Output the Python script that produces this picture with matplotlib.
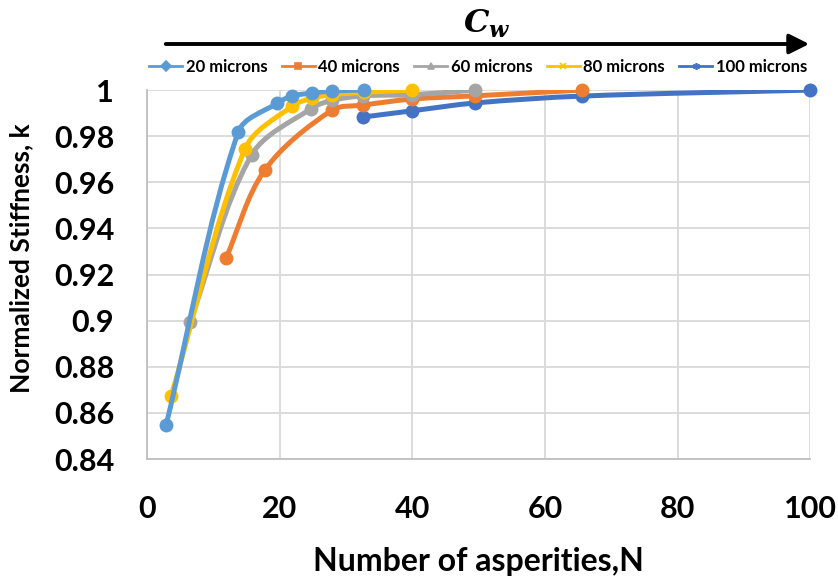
import matplotlib
matplotlib.use("Agg")
import matplotlib.pyplot as plt
from matplotlib.path import Path
from matplotlib.patches import PathPatch, FancyArrowPatch
from matplotlib.lines import Line2D
import numpy as np

plt.rcParams['font.family'] = ['Lato', 'DejaVu Sans']
plt.rcParams['font.weight'] = 'bold'
plt.rcParams['mathtext.fontset'] = 'dejavuserif'

labels = ["20 microns", "40 microns", "60 microns", "80 microns", "100 microns"]
colors = ["#5B9BD5", "#ED7D31", "#A5A5A5", "#FFC000", "#4472C4"]
legend_markers = ["D", "s", "^", "x", (6, 2, 0)]

n20 = [2.8, 13.7, 19.6, 21.8, 24.8, 27.8, 32.7]
k20 = [0.8547, 0.9818, 0.9944, 0.9974, 0.9987, 0.9996, 1.0]
n40 = [11.85, 17.7, 27.85, 32.6, 39.9, 49.4, 65.6]
k40 = [0.9271, 0.9653, 0.9913, 0.9935, 0.9961, 0.9975, 1.0]
n60 = [6.4, 15.7, 24.7, 27.8, 32.6, 39.9, 49.4]
k60 = [0.8993, 0.9718, 0.992, 0.9955, 0.9975, 0.998, 1.0]
n80 = [3.55, 14.7, 21.8, 24.8, 27.8, 32.7, 39.9]
k80 = [0.8672, 0.9744, 0.993, 0.9965, 0.998, 0.999, 1.0]
n100 = [32.5, 39.9, 49.4, 65.6, 100]
k100 = [0.9883, 0.991, 0.9944, 0.9974, 1.0]

series_n = [n20, n40, n60, n80, n100]
series_k = [k20, k40, k60, k80, k100]

xticks = [0, 20, 40, 60, 80, 100]
yticks = [0.84, 0.86, 0.88, 0.9, 0.92, 0.94, 0.96, 0.98, 1.0]
ytick_labels = ["0.84", "0.86", "0.88", "0.9", "0.92", "0.94", "0.96", "0.98", "1"]

fig = plt.figure(figsize=(8.38, 5.76), dpi=100)
ax = fig.add_axes([0.176, 0.203, 0.7906, 0.6406])
ax.set_xlim(0, 100)
ax.set_ylim(0.84, 1.0)


def smooth_path(x, y):
    # Excel-like smoothed line: cubic Bezier through the points,
    # control points built in display space, then mapped back to data space.
    tr = ax.transData
    pts = tr.transform(np.column_stack([x, y]).astype(float))
    n = len(pts)
    verts = [pts[0]]
    codes = [Path.MOVETO]
    for i in range(n - 1):
        p0 = pts[i - 1] if i > 0 else pts[i]
        p1 = pts[i]
        p2 = pts[i + 1]
        p3 = pts[i + 2] if i + 2 < n else pts[i + 1]
        d01 = np.hypot(*(p1 - p0))
        d12 = np.hypot(*(p2 - p1))
        d23 = np.hypot(*(p3 - p2))
        s1 = d12 / (d01 + d12) / 3.0 if (d01 + d12) > 0 else 0
        s2 = d12 / (d12 + d23) / 3.0 if (d12 + d23) > 0 else 0
        c1 = p1 + (p2 - p0) * s1
        c2 = p2 - (p3 - p1) * s2
        verts += [c1, c2, p2]
        codes += [Path.CURVE4] * 3
    verts = tr.inverted().transform(np.array(verts))
    return Path(verts, codes)


order = [4, 1, 2, 3, 0]
for z, i in enumerate(order):
    p = PathPatch(smooth_path(series_n[i], series_k[i]), facecolor='none',
                  edgecolor=colors[i], lw=3.6, capstyle='round',
                  joinstyle='round', zorder=3 + z * 2)
    ax.add_patch(p)
    ax.plot(series_n[i], series_k[i], linestyle='none', marker='o',
            markersize=9, color=colors[i], zorder=4 + z * 2, clip_on=False)

ax.set_xticks(xticks)
ax.set_yticks(yticks)
ax.set_yticklabels(ytick_labels)
ax.grid(True, color="#D9D9D9", linewidth=1.3)
ax.set_axisbelow(True)
for s in ["top", "right"]:
    ax.spines[s].set_visible(False)
for s in ["left", "bottom"]:
    ax.spines[s].set_color("#BFBFBF")
    ax.spines[s].set_linewidth(1.3)
ax.tick_params(axis='both', length=0, labelsize=22)
ax.tick_params(axis='x', pad=26)
ax.tick_params(axis='y', pad=24)
for lab in ax.get_xticklabels() + ax.get_yticklabels():
    lab.set_fontweight('bold')

ax.set_xlabel("Number of asperities,N", fontsize=23, fontweight='bold', labelpad=17)
ax.set_ylabel("Normalized Stiffness, k", fontsize=19, fontweight='bold')
ax.yaxis.set_label_coords(-0.172, 0.545)

handles = [Line2D([0], [0], color=colors[i], lw=2, marker=legend_markers[i],
                  markersize=5, markeredgewidth=1.2) for i in range(5)]
leg = fig.legend(handles, labels, loc='center', bbox_to_anchor=(478 / 838, 1 - 67 / 576),
                 ncol=5, frameon=False, handlelength=2.0, handletextpad=0.2,
                 columnspacing=0.85, prop={'weight': 'bold', 'size': 12})

fig.patches.append(FancyArrowPatch(
    (163 / 838, 1 - 44 / 576), (812 / 838, 1 - 44 / 576),
    transform=fig.transFigure, arrowstyle='-|>,head_length=8,head_width=4',
    mutation_scale=1.5, color='black', lw=2.8))
fig.text(487 / 838, 1 - 24 / 576, r'$\mathbfit{C}_{\mathbfit{w}}$', fontsize=23,
         ha='center', va='center')

fig.savefig("out.png", dpi=100)
